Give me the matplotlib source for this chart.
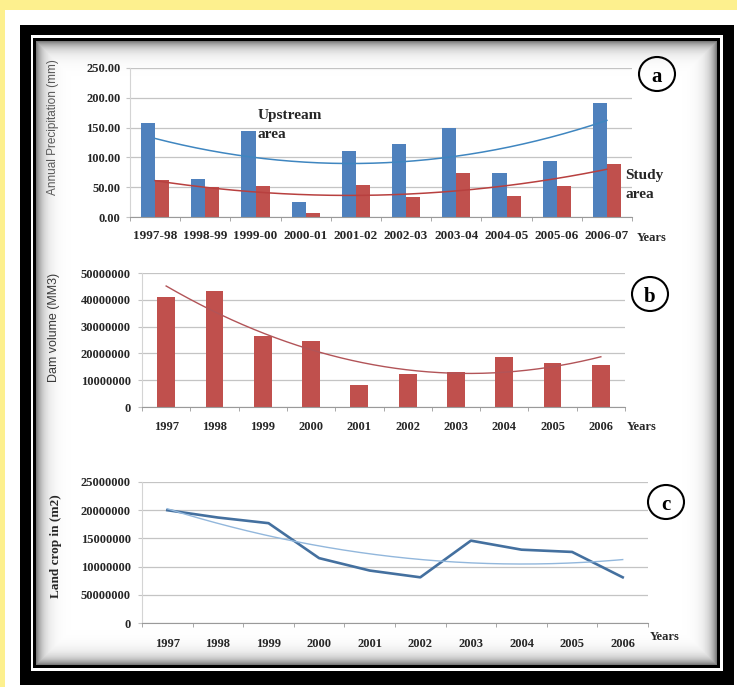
import numpy as np
import matplotlib.pyplot as plt
from matplotlib.patches import Rectangle, Ellipse

# (a) annual precipitation, mm
seasons = ['1997-98', '1998-99', '1999-00', '2000-01', '2001-02',
           '2002-03', '2003-04', '2004-05', '2005-06', '2006-07']
upstream = [158, 63, 145, 26, 111, 123, 150, 74, 94.5, 192]
study = [62, 50, 52, 7, 53, 33, 73, 35, 52, 89]
precip_ticks = [0, 50, 100, 150, 200, 250]
precip_labels = ['0.00', '50.00', '100.00', '150.00', '200.00', '250.00']

# (b) dam volume
years = ['1997', '1998', '1999', '2000', '2001',
         '2002', '2003', '2004', '2005', '2006']
dam_volume = [41.0e6, 43.1e6, 26.6e6, 24.5e6, 8.3e6,
              12.5e6, 12.9e6, 18.5e6, 16.5e6, 15.8e6]
dam_ticks = [0, 10e6, 20e6, 30e6, 40e6, 50e6]
dam_labels = ['0', '10000000', '20000000', '30000000', '40000000', '50000000']

# (c) land crop
land_crop = [20.0e6, 18.7e6, 17.7e6, 11.5e6, 9.3e6,
             8.1e6, 14.6e6, 13.0e6, 12.6e6, 8.1e6]
crop_ticks = [0, 5e6, 10e6, 15e6, 20e6, 25e6]
crop_labels = ['0', '50000000', '10000000', '15000000', '20000000', '25000000']

plt.rcParams['font.family'] = ['Liberation Serif', 'DejaVu Serif']
plt.rcParams['font.weight'] = 'bold'

W, H = 737, 687
fig = plt.figure(figsize=(W / 100, H / 100), dpi=100)
fig.patch.set_facecolor('#fdf08e')


def box(x0, y0, x1, y1):
    # axes from pixel corners (y measured from top)
    return fig.add_axes([x0 / W, 1 - y1 / H, (x1 - x0) / W, (y1 - y0) / H])


def ftext(x, y, s, **kw):
    kw.setdefault('color', '#262626')
    fig.text(x / W, 1 - y / H, s, **kw)


# frame
bg = fig.add_axes([0, 0, 1, 1])
bg.axis('off')
frames = [((5, 10, W + 5, H + 5), 'white'),
          ((20, 25, 734, 685), 'black'),
          ((31, 35, 723, 671), 'white'),
          ((33, 38, 720, 668), 'black')]
for (x0, y0, x1, y1), c in frames:
    bg.add_patch(Rectangle((x0, y0), x1 - x0, y1 - y0, facecolor=c, edgecolor='none'))
ix0, iy0, ix1, iy1 = 36, 41, 717, 665
xx = np.arange(ix1 - ix0) + 0.5
yy = np.arange(iy1 - iy0) + 0.5
dx = np.minimum(xx, xx[::-1])
dy = np.minimum(yy, yy[::-1])
d = np.minimum(dy[:, None], dx[None, :])
shade = 1 - 0.55 * np.exp(-d / 7.0)
bg.imshow(shade, cmap='gray', vmin=0, vmax=1, extent=(ix0, ix1, iy1, iy0),
          interpolation='bilinear', aspect='auto', zorder=3)
bg.set_xlim(0, W)
bg.set_ylim(H, 0)

for (cx, cy) in [(657, 74), (650, 294), (666, 502)]:
    bg.add_patch(Ellipse((cx, cy), 36, 34, fill=False, lw=1.5, ec='black', zorder=4))


def style(ax, ticks, labels, ymax, xlabels, xpad, xsize, ypad):
    ax.set_facecolor('none')
    ax.set_xlim(-0.5, 9.5)
    ax.set_ylim(0, ymax)
    ax.set_yticks(ticks)
    ax.set_yticklabels(labels)
    ax.set_xticks(range(10))
    ax.set_xticklabels(xlabels)
    ax.set_xticks(np.arange(-0.5, 10), minor=True)
    ax.grid(axis='y', color='#c4c4c4', lw=0.9)
    ax.set_axisbelow(True)
    for s in ['top', 'right']:
        ax.spines[s].set_visible(False)
    ax.spines['left'].set_color('#d4d4d4')
    ax.spines['bottom'].set_color('#9a9a9a')
    ax.tick_params(axis='x', which='major', length=0, pad=xpad, labelsize=xsize,
                   labelcolor='#262626')
    ax.tick_params(axis='x', which='minor', length=3, color='#9a9a9a')
    ax.tick_params(axis='y', length=3, color='#c4c4c4', pad=ypad, labelsize=9,
                   labelcolor='#262626')


x = np.arange(10)
xs = np.linspace(0, 9, 200)

# panel a
ax1 = box(130, 68, 632, 217)
style(ax1, precip_ticks, precip_labels, 250, seasons, 9.5, 9.5, 4)
ax1.bar(x - 0.14, upstream, 0.28, color='#4f81bd')
ax1.bar(x + 0.14, study, 0.28, color='#c0504d')
ax1.plot(xs, np.polyval(np.polyfit(x, upstream, 2), xs), color='#3f86c0', lw=1.1)
ax1.plot(xs, np.polyval(np.polyfit(x, study, 2), xs), color='#b8403f', lw=1.1)

# panel b
ax2 = box(142, 273, 625, 407)
style(ax2, dam_ticks, dam_labels, 50e6, years, 10, 9, 5)
ax2.bar(x, dam_volume, 0.37, color='#c0504d')
ax2.plot(xs, np.polyval(np.polyfit(x, dam_volume, 2), xs), color='#b25458', lw=1.0)

# panel c
ax3 = box(142, 482, 648, 623)
style(ax3, crop_ticks, crop_labels, 25e6, years, 11, 9, 5)
ax3.plot(x, land_crop, color='#44709f', lw=1.9)
ax3.plot(xs, np.polyval(np.polyfit(x, land_crop, 2), xs), color='#92b7dc', lw=1.0)

# axis titles and notes
ftext(53, 127, 'Annual Precipitation (mm)', rotation=90, ha='center', va='center',
      family='Liberation Sans', weight='normal', size=8.5, color='#595959')
ftext(54, 327, 'Dam volume (MM3)', rotation=90, ha='center', va='center',
      family='Liberation Sans', weight='normal', size=9, color='#3a3a3a')
ftext(56, 546, 'Land crop in (m2)', rotation=90, ha='center', va='center', size=9.5)

ftext(637, 238, 'Years', ha='left', va='center', size=9)
ftext(627, 427, 'Years', ha='left', va='center', size=9)
ftext(650, 637, 'Years', ha='left', va='center', size=9)

ftext(258, 115, 'Upstream', ha='left', va='center', size=11)
ftext(258, 134, 'area', ha='left', va='center', size=11)
ftext(625, 176, 'Study', ha='left', va='center', size=11)
ftext(625, 195, 'area', ha='left', va='center', size=11)

for (cx, cy), s in zip([(657, 74), (650, 294), (666, 502)], ['a', 'b', 'c']):
    ftext(cx, cy, s, ha='center', va='center_baseline', size=15, color='black')

fig.savefig('out.png', dpi=100, facecolor=fig.get_facecolor())
